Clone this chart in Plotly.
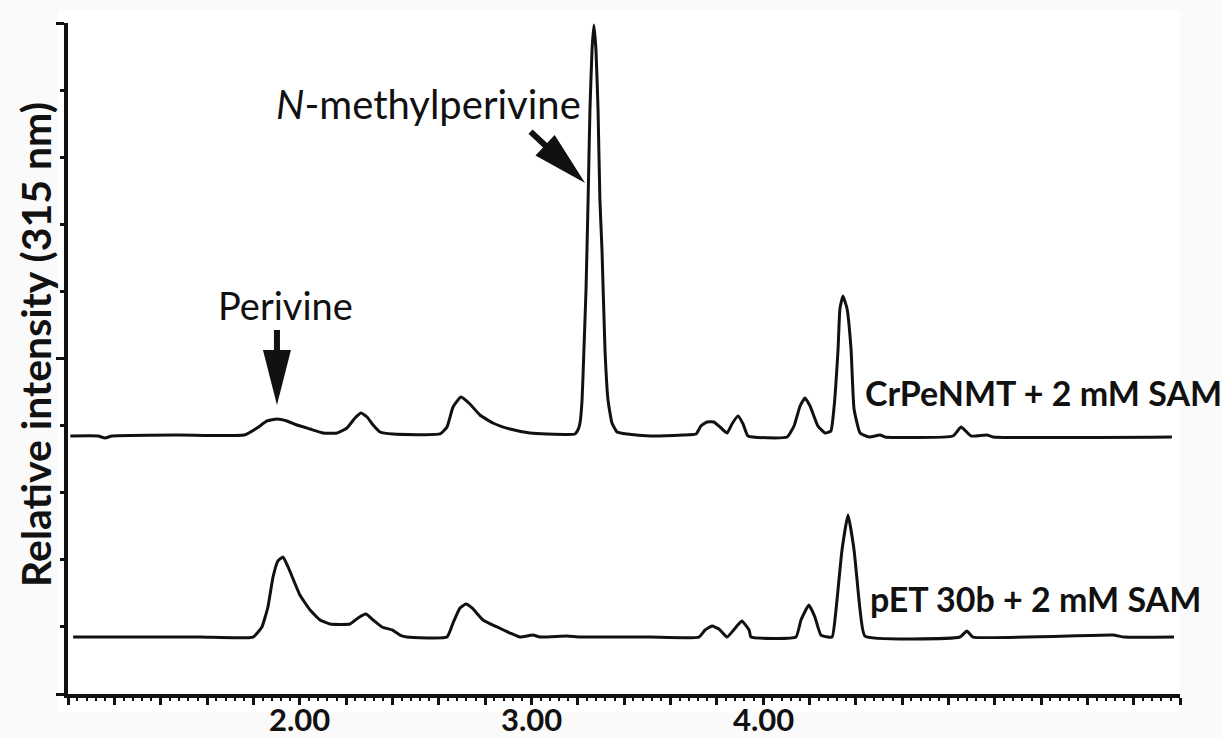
import math
import plotly.graph_objects as go

# HPLC traces (315 nm): retention time in min, relative intensity.
# The CrPeNMT trace is offset above the empty-vector control.
crpenmt_time = [1.01, 1.13, 1.16, 1.19, 1.48, 1.76,
                1.816, 1.859, 1.902, 1.945, 1.988, 2.045, 2.101, 2.161, 2.204, 2.239, 2.265, 2.291, 2.317, 2.347, 2.403,
                2.606, 2.636, 2.662, 2.696, 2.735, 2.778, 2.834, 2.908, 2.994, 3.068,
                3.188, 3.201, 3.210, 3.219, 3.227, 3.236, 3.245, 3.253, 3.262, 3.270, 3.279, 3.288, 3.296, 3.305,
                3.318, 3.331, 3.348, 3.370, 3.413,
                3.512, 3.655, 3.711, 3.732, 3.758, 3.788, 3.819, 3.845, 3.866, 3.892, 3.914, 3.935,
                4.104, 4.134, 4.160, 4.181, 4.203, 4.237, 4.268, 4.293, 4.306, 4.324, 4.332, 4.345, 4.363, 4.380,
                4.393, 4.419,
                4.458, 4.505, 4.527, 4.820, 4.855, 4.898, 4.967, 4.993, 5.765]
crpenmt_signal = [3.845, 3.845, 3.815, 3.845, 3.860, 3.860,
                  3.964, 4.069, 4.098, 4.069, 4.009, 3.949, 3.890, 3.890, 3.964, 4.113, 4.188, 4.128, 4.009, 3.905, 3.875,
                  3.875, 3.979, 4.277, 4.426, 4.322, 4.158, 4.039, 3.949, 3.890, 3.875,
                  3.875, 3.934, 4.039, 4.382, 5.127, 6.021, 7.362, 8.703, 9.598, 9.970, 9.598, 8.703, 7.362, 6.617,
                  5.127, 4.382, 4.039, 3.905, 3.875,
                  3.845, 3.860, 3.875, 3.994, 4.054, 4.054, 3.964, 3.890, 4.024, 4.143, 4.024, 3.845,
                  3.830, 3.994, 4.292, 4.411, 4.292, 3.994, 3.890, 3.920, 4.247, 5.142, 5.738, 5.931, 5.738, 5.142,
                  4.247, 3.890,
                  3.830, 3.860, 3.830, 3.845, 3.979, 3.845, 3.860, 3.830, 3.830]

pet30b_time = [1.022, 1.570, 1.799, 1.837, 1.863, 1.885, 1.906, 1.928, 1.950, 2.001,
               2.045, 2.088, 2.131, 2.217, 2.252, 2.286, 2.317, 2.355, 2.399, 2.433,
               2.463, 2.636, 2.662, 2.692, 2.718, 2.744, 2.791, 2.852, 2.908, 2.951,
               3.007, 3.037, 3.154, 3.210, 3.512, 3.724, 3.750, 3.780, 3.810, 3.845,
               3.884, 3.909, 3.940, 3.948, 4.142, 4.164, 4.198, 4.224, 4.250, 4.298,
               4.315, 4.341, 4.367, 4.393, 4.419, 4.440, 4.850, 4.880, 4.906, 5.511,
               5.559, 5.774]
pet30b_signal = [0.849, 0.849, 0.849, 0.999, 1.297, 1.744, 1.982, 2.042, 1.893, 1.475,
                 1.252, 1.103, 1.043, 1.043, 1.133, 1.192, 1.103, 0.999, 0.954, 0.879,
                 0.849, 0.849, 1.058, 1.282, 1.341, 1.282, 1.103, 0.999, 0.909, 0.849,
                 0.879, 0.849, 0.864, 0.849, 0.849, 0.849, 0.954, 1.013, 0.969, 0.849,
                 0.999, 1.088, 0.954, 0.849, 0.849, 1.103, 1.326, 1.148, 0.879, 0.849,
                 1.252, 2.146, 2.668, 2.146, 1.252, 0.864, 0.849, 0.939, 0.849, 0.879,
                 0.849, 0.849]

# Axis ticks
x_major_ticks = [1.0, 1.2, 1.4, 1.6, 1.8, 2.0, 2.2, 2.4, 2.6, 2.8, 3.0, 3.2, 3.4,
                 3.6, 3.8, 4.0, 4.2, 4.4, 4.6, 4.8, 5.0, 5.2, 5.4, 5.6, 5.8]
x_labelled = [2.0, 3.0, 4.0]
x_label_text = ["2.00", "3.00", "4.00"]
y_major_ticks = [0, 5, 10]

trace_names = ["CrPeNMT + 2 mM SAM", "pET 30b + 2 mM SAM"]

# Figure geometry
W, H = 1222, 738
M_L, M_R, M_T, M_B = 68, 42, 23, 44
X_RANGE = [1.0, 5.8]
Y_RANGE = [0, 10]
PLOT_W = W - M_L - M_R
PLOT_H = H - M_T - M_B
PX_X = PLOT_W / (X_RANGE[1] - X_RANGE[0])
PX_Y = PLOT_H / (Y_RANGE[1] - Y_RANGE[0])

FONT = "Lato"
INK = "#111111"


def arrow_path(tip_x, tip_y, dx_px, dy_px, total=75, head=55, head_w=28, shaft_w=6):
    """Filled block arrow ending at (tip_x, tip_y); direction given in screen pixels."""
    length = math.hypot(dx_px, dy_px)
    ux, uy = dx_px / length, dy_px / length
    nx, ny = -uy, ux
    offsets = [
        (0.0, 0.0),
        (-head * ux + head_w / 2 * nx, -head * uy + head_w / 2 * ny),
        (-head * ux + shaft_w / 2 * nx, -head * uy + shaft_w / 2 * ny),
        (-total * ux + shaft_w / 2 * nx, -total * uy + shaft_w / 2 * ny),
        (-total * ux - shaft_w / 2 * nx, -total * uy - shaft_w / 2 * ny),
        (-head * ux - shaft_w / 2 * nx, -head * uy - shaft_w / 2 * ny),
        (-head * ux - head_w / 2 * nx, -head * uy - head_w / 2 * ny),
    ]
    pts = [(tip_x + ox / PX_X, tip_y - oy / PX_Y) for ox, oy in offsets]
    return "M " + " L ".join(f"{x:.5f},{y:.5f}" for x, y in pts) + " Z"


fig = go.Figure()
for t, s, name in [(crpenmt_time, crpenmt_signal, trace_names[0]),
                   (pet30b_time, pet30b_signal, trace_names[1])]:
    fig.add_trace(go.Scatter(
        x=t, y=s, mode="lines", name=name,
        line=dict(color=INK, width=3, shape="spline", smoothing=0.4),
        hoverinfo="x+y",
    ))

# Perivine peak of the CrPeNMT trace (first peak, before 2.0 min)
peri_idx = max((i for i, t in enumerate(crpenmt_time) if t < 2.0), key=lambda i: crpenmt_signal[i])
peri_x, peri_y = crpenmt_time[peri_idx], crpenmt_signal[peri_idx]
peri_tip_y = peri_y + 14 / PX_Y

# N-methylperivine arrow points at the left flank of the main peak
nmp_tip = (3.232, 7.615)

shapes = [
    dict(type="rect", xref="paper", yref="paper", layer="below",
         x0=-10 / PLOT_W, x1=1.0, y0=-18 / PLOT_H, y1=1 + 13 / PLOT_H,
         fillcolor="white", line=dict(width=0)),
    dict(type="path", xref="x", yref="y", path=arrow_path(peri_x, peri_tip_y, 0, 1),
         fillcolor=INK, line=dict(width=0)),
    dict(type="path", xref="x", yref="y", path=arrow_path(nmp_tip[0], nmp_tip[1], 53, 50),
         fillcolor=INK, line=dict(width=0)),
]

annotations = [
    dict(x=peri_x + 9 / PX_X, y=peri_tip_y + 100 / PX_Y, xref="x", yref="y", text="Perivine",
         showarrow=False, font=dict(family=FONT, size=38, color=INK)),
    dict(x=2.554, y=8.79, xref="x", yref="y", text="<i>N</i>-methylperivine",
         showarrow=False, font=dict(family=FONT, size=40, color=INK)),
    dict(x=4.432, y=4.50, xref="x", yref="y", text=trace_names[0], xanchor="left",
         showarrow=False, font=dict(family=FONT, size=34, color=INK, weight="bold")),
    dict(x=4.453, y=1.43, xref="x", yref="y", text=trace_names[1], xanchor="left",
         showarrow=False, font=dict(family=FONT, size=34, color=INK, weight="bold")),
    dict(x=-33 / PLOT_W, y=(694 - 345) / PLOT_H, xref="paper", yref="paper",
         xanchor="center", yanchor="middle",
         text="Relative intensity (315 nm)", textangle=-90, showarrow=False,
         font=dict(family=FONT, size=41, color=INK, weight="bold")),
]

# Time labels under the axis, set close to the tick marks
for v, txt in zip(x_labelled, x_label_text):
    annotations.append(dict(
        x=v, y=-25 / PLOT_H, xref="x", yref="paper", xanchor="center", yanchor="middle",
        text=txt, showarrow=False, borderpad=0,
        font=dict(family=FONT, size=31, color=INK, weight="bold"),
    ))

fig.update_layout(
    width=W, height=H, autosize=False,
    margin=dict(l=M_L, r=M_R, t=M_T, b=M_B, pad=0, autoexpand=False),
    paper_bgcolor="#fafafa", plot_bgcolor="white",
    showlegend=False,
    shapes=shapes, annotations=annotations,
    xaxis=dict(
        range=X_RANGE, showgrid=False, zeroline=False, automargin=False,
        showline=True, linecolor=INK, linewidth=4,
        ticks="outside", ticklen=7, tickwidth=3, tickcolor=INK,
        tickmode="array", tickvals=x_major_ticks, showticklabels=False,
        minor=dict(ticks="outside", ticklen=3, tickwidth=2, tickcolor=INK, tick0=1.0, dtick=0.04),
    ),
    yaxis=dict(
        range=Y_RANGE, showgrid=False, zeroline=False, automargin=False,
        showline=True, linecolor=INK, linewidth=4,
        ticks="outside", ticklen=8, tickwidth=3, tickcolor=INK,
        tickmode="array", tickvals=y_major_ticks, showticklabels=False,
        minor=dict(ticks="outside", ticklen=4, tickwidth=3, tickcolor=INK, tick0=0, dtick=1),
    ),
)

fig.write_html("out.html")
